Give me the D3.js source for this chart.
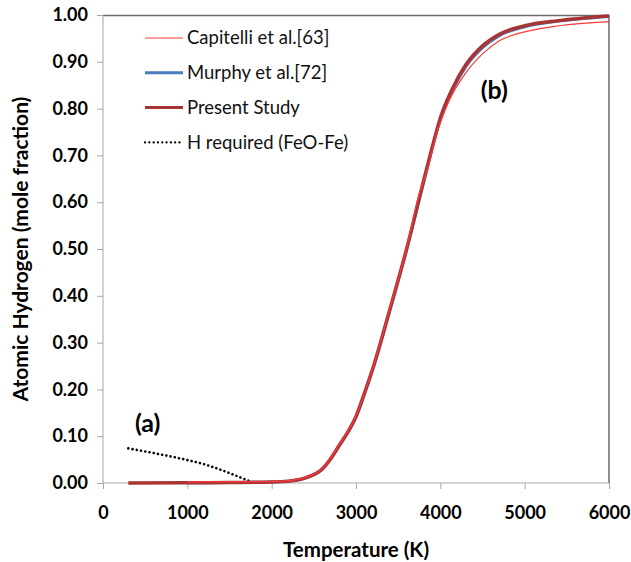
<!DOCTYPE html>
<html>
	<head>
		<meta charset=utf-8>
		<title>Atomic Hydrogen</title>
		<style type="text/css">
			body { margin: 0; background: #fff; }
			.axis text { font-family: Lato, "Open Sans", sans-serif; font-weight: bold; font-size: 18px; fill: #000; }
			.axis path, .axis line { stroke: #a6a6a6; }
		</style>
		<script src="https://cdnjs.cloudflare.com/ajax/libs/d3/7.8.5/d3.min.js"></script>
	</head>
	<body>
		<script>
			// temperatures (K) and mole fractions
			var presentT   = [300, 1000, 1500, 2000, 2200, 2400, 2600, 2700, 2800, 2900, 3000, 3100, 3200, 3400, 3600, 3800, 3900, 4000, 4150, 4300, 4500, 4700, 5000, 5400, 6000];
			var presentV   = [0, 0.0005, 0.001, 0.002, 0.004, 0.011, 0.030, 0.052, 0.080, 0.108, 0.142, 0.192, 0.245, 0.370, 0.500, 0.645, 0.715, 0.780, 0.845, 0.893, 0.934, 0.959, 0.977, 0.988, 0.998];
			var murphyT    = [1000, 1500, 2000, 2200, 2400, 2600, 2800, 3000, 3200, 3400, 3600, 3800, 4000, 4150, 4300, 4500, 4700, 5000, 5400, 6000];
			var murphyV    = [0.0005, 0.001, 0.002, 0.004, 0.011, 0.030, 0.079, 0.141, 0.244, 0.368, 0.498, 0.641, 0.776, 0.841, 0.889, 0.930, 0.956, 0.975, 0.987, 0.997];
			var capitelliT = [1000, 1500, 2000, 2200, 2400, 2600, 2800, 3000, 3200, 3400, 3600, 3750, 3800, 3850, 3950, 4100, 4300, 4500, 4700, 5000, 5400, 6000];
			var capitelliV = [0.002, 0.003, 0.003, 0.005, 0.012, 0.031, 0.081, 0.143, 0.246, 0.372, 0.502, 0.618, 0.645, 0.672, 0.742, 0.815, 0.876, 0.917, 0.945, 0.964, 0.977, 0.986];
			var hReqT      = [300, 600, 1000, 1200, 1400, 1600, 1750];
			var hReqV      = [0.074, 0.064, 0.049, 0.040, 0.028, 0.014, 0.003];

			var xTicks = [0, 1000, 2000, 3000, 4000, 5000, 6000];
			var yTicks = [0, 0.1, 0.2, 0.3, 0.4, 0.5, 0.6, 0.7, 0.8, 0.9, 1.0];

			var legendNames = ["Capitelli et al.[63]", "Murphy et al.[72]", "Present Study", "H required (FeO-Fe)"];

			function zip(t, v) { return t.map(function(d, i) { return [d, v[i]]; }); }

			var margin = {top: 15, right: 22, bottom: 79, left: 103},
				width = 631 - margin.left - margin.right,
				height = 562 - margin.top - margin.bottom;

			var x = d3.scaleLinear().domain([0, 6000]).range([0, width]);
			var y = d3.scaleLinear().domain([0, 1]).range([height, 0]);

			var svg = d3.select("body").append("svg")
				.attr("width", 631)
				.attr("height", 562)
				.append("g")
				.attr("transform", "translate(" + margin.left + "," + margin.top + ")");

			// top and right frame lines
			svg.append("path")
				.attr("d", "M0,0.5H" + width + "V" + height)
				.style("fill", "none")
				.style("stroke", "#6b6b6b")
				.style("stroke-width", 1.5);

			var xAxis = d3.axisBottom(x).tickValues(xTicks).tickSize(6).tickPadding(17).tickFormat(d3.format("d"));
			var yAxis = d3.axisLeft(y).tickValues(yTicks).tickSize(6).tickPadding(9).tickFormat(d3.format(".2f"));

			svg.append("g").attr("class", "x axis")
				.attr("transform", "translate(0," + height + ")")
				.call(xAxis)
				.call(function(g) { g.select(".domain").attr("d", "M0,0H" + width); });

			svg.append("g").attr("class", "y axis")
				.call(yAxis)
				.call(function(g) { g.select(".domain").attr("d", "M0," + height + "V0"); });

			var line = d3.line()
				.x(function(d) { return x(d[0]); })
				.y(function(d) { return y(d[1]); })
				.curve(d3.curveMonotoneX);

			// H required dotted line
			svg.append("path")
				.attr("d", line(zip(hReqT, hReqV)))
				.style("fill", "none")
				.style("stroke", "#000")
				.style("stroke-width", 2.6)
				.style("stroke-linecap", "round")
				.style("stroke-dasharray", "0.1,4.2");

			svg.append("path")
				.attr("d", line(zip(murphyT, murphyV)))
				.style("fill", "none")
				.style("stroke", "#4a7ac0")
				.style("stroke-width", 3);

			svg.append("path")
				.attr("d", line(zip(presentT, presentV)))
				.style("fill", "none")
				.style("stroke", "#a83434")
				.style("stroke-width", 3.5);

			svg.append("path")
				.attr("d", line(zip(capitelliT, capitelliV)))
				.style("fill", "none")
				.style("stroke", "#ff3838")
				.style("stroke-width", 1.2);

			// legend
			var legStyles = [
				{color: "#ff3838", w: 1.2, dash: null},
				{color: "#4a7ac0", w: 3, dash: null},
				{color: "#a83434", w: 3, dash: null},
				{color: "#000", w: 2.2, dash: "0.1,4.2"}
			];
			var legend = svg.append("g").attr("transform", "translate(42,23)");
			legendNames.forEach(function(name, i) {
				var row = legend.append("g").attr("transform", "translate(0," + (i * 34.8) + ")");
				row.append("line")
					.attr("x1", 0).attr("x2", 38).attr("y1", 0).attr("y2", 0)
					.style("stroke", legStyles[i].color)
					.style("stroke-width", legStyles[i].w)
					.style("stroke-linecap", legStyles[i].dash ? "round" : "butt")
					.style("stroke-dasharray", legStyles[i].dash);
				row.append("text")
					.attr("x", 42).attr("y", 0).attr("dy", "0.35em")
					.style("font-family", "Lato, 'Open Sans', sans-serif")
					.style("font-size", "18.5px")
					.style("fill", "#111")
					.text(name);
			});

			// annotations
			svg.append("text")
				.attr("x", x(530)).attr("y", y(0.11))
				.style("font-family", "Lato, 'Open Sans', sans-serif")
				.style("font-weight", "bold").style("font-size", "25px")
				.style("text-anchor", "middle")
				.text("(a)");

			svg.append("text")
				.attr("x", x(4640)).attr("y", y(0.82))
				.style("font-family", "Lato, 'Open Sans', sans-serif")
				.style("font-weight", "bold").style("font-size", "25px")
				.style("text-anchor", "middle")
				.text("(b)");

			// axis titles
			svg.append("text")
				.attr("x", width / 2).attr("y", height + 74)
				.style("font-family", "Lato, 'Open Sans', sans-serif")
				.style("font-weight", "bold").style("font-size", "20.5px")
				.style("text-anchor", "middle")
				.text("Temperature (K)");

			svg.append("text")
				.attr("transform", "rotate(-90)")
				.attr("x", -height / 2).attr("y", -75)
				.style("font-family", "Lato, 'Open Sans', sans-serif")
				.style("font-weight", "bold").style("font-size", "21px")
				.style("text-anchor", "middle")
				.text("Atomic Hydrogen (mole fraction)");
		</script>
	</body>
</html>
